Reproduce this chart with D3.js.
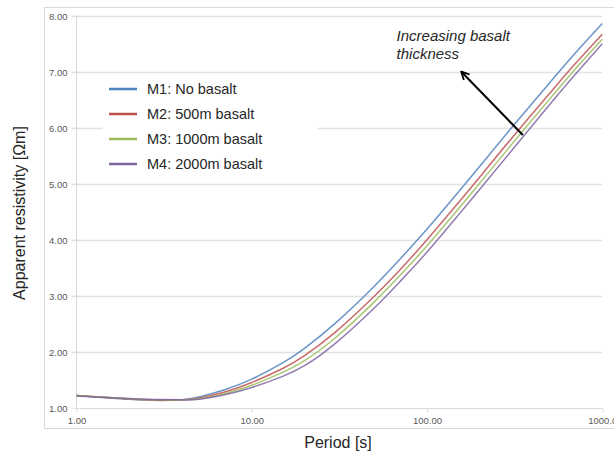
<!DOCTYPE html>
<html>
<head>
<meta charset="utf-8">
<script src="https://cdn.jsdelivr.net/npm/d3@7"></script>
<style>
  html, body { margin: 0; padding: 0; background: #fff; }
  svg { display: block; }
</style>
</head>
<body>
<svg id="chart" width="614" height="456"></svg>
<script>
// ---- Data ----
const periods = [1, 2, 3, 4, 5, 7, 10, 15, 20, 30, 50, 70, 100, 150, 200, 300, 500, 700, 1000];
const seriesNames = ["M1: No basalt", "M2: 500m basalt", "M3: 1000m basalt", "M4: 2000m basalt"];
const m1 = [1.22, 1.15, 1.13, 1.14, 1.19, 1.32, 1.51, 1.80, 2.06, 2.51, 3.17, 3.65, 4.19, 4.84, 5.31, 5.98, 6.80, 7.33, 7.86];
const m2 = [1.22, 1.155, 1.135, 1.14, 1.17, 1.28, 1.45, 1.70, 1.93, 2.35, 2.99, 3.46, 4.00, 4.65, 5.12, 5.79, 6.61, 7.14, 7.67];
const m3 = [1.22, 1.16, 1.14, 1.14, 1.16, 1.25, 1.40, 1.63, 1.84, 2.25, 2.89, 3.36, 3.89, 4.54, 5.01, 5.68, 6.51, 7.045, 7.58];
const m4 = [1.21, 1.165, 1.145, 1.14, 1.15, 1.23, 1.36, 1.56, 1.75, 2.15, 2.78, 3.25, 3.78, 4.43, 4.90, 5.57, 6.41, 6.95, 7.50];
const seriesColors = ["#4F81BD", "#C0504D", "#9BBB59", "#8064A2"];
const yTicks = [1, 2, 3, 4, 5, 6, 7, 8];
const xTicks = [1, 10, 100, 1000];
const xTitle = "Period [s]";
const yTitle = "Apparent resistivity [Ωm]";
const annotationLines = ["Increasing basalt", "thickness"];
const arrowFrom = [352, 5.87];   // [period, resistivity]
const arrowTo = [158, 6.99];
const annotationAt = [67, 7.54];

const allSeries = [m1, m2, m3, m4];

// ---- Layout ----
const svg = d3.select("#chart");
const x = d3.scaleLog().domain([1, 1000]).range([76.5, 602.3]);
const y = d3.scaleLinear().domain([1, 8]).range([407.7, 15.7]);
const font = "'Liberation Sans', Arial, sans-serif";

// outer chart border
svg.append("rect")
  .attr("x", 44.5).attr("y", 7.5)
  .attr("width", 600).attr("height", 421)
  .attr("fill", "none").attr("stroke", "#d9d9d9").attr("stroke-width", 1);

// gridlines
svg.append("g").selectAll("line")
  .data(yTicks.filter(d => d > 1))
  .join("line")
  .attr("x1", 72).attr("x2", x(1000))
  .attr("y1", d => Math.round(y(d)) + 0.5).attr("y2", d => Math.round(y(d)) + 0.5)
  .attr("stroke", "#e3e3e3").attr("stroke-width", 1.3);

// axes via d3
const yAxis = d3.axisLeft(y).tickValues(yTicks).tickFormat(d3.format(".2f")).tickSize(4).tickPadding(5);
const gy = svg.append("g").attr("transform", `translate(${x(1)},0)`).call(yAxis);
gy.select(".domain").attr("stroke", "#d9d9d9").attr("d", `M0,${y(8)}V${y(1)}`);
gy.selectAll(".tick line").attr("stroke", "#d9d9d9");
gy.selectAll(".tick text").attr("fill", "#595959").attr("font-family", font).attr("font-size", 9.5).attr("dy", "0.35em");

const xAxis = d3.axisBottom(x).tickValues(xTicks).tickFormat(d => d === 1000 ? "1000.0" : d3.format(".2f")(d)).tickSize(4).tickPadding(5);
const gx = svg.append("g").attr("transform", `translate(0,${Math.round(y(1)) + 0.5})`).call(xAxis);
gx.select(".domain").attr("stroke", "#d9d9d9").attr("d", `M${x(1)},0H${x(1000)}`);
gx.selectAll(".tick line").attr("stroke", "#d9d9d9");
gx.selectAll(".tick text").attr("fill", "#595959").attr("font-family", font).attr("font-size", 9.5);

// legend background
svg.append("rect")
  .attr("x", 103).attr("y", 76).attr("width", 214).attr("height", 102)
  .attr("fill", "#fff");

// curves
const line = d3.line()
  .x((d, i) => x(periods[i]))
  .y(d => y(d))
  .curve(d3.curveNatural);

svg.append("g").selectAll("path")
  .data(allSeries)
  .join("path")
  .attr("d", d => line(d))
  .attr("fill", "none")
  .attr("stroke", (d, i) => seriesColors[i])
  .attr("stroke-width", 1.5)
  .attr("stroke-opacity", 0.85);

// legend
const lg = svg.append("g").selectAll("g")
  .data(seriesNames)
  .join("g")
  .attr("transform", (d, i) => `translate(109,${89 + i * 25})`);
lg.append("line")
  .attr("x1", 0).attr("x2", 28).attr("y1", 0).attr("y2", 0)
  .attr("stroke", (d, i) => seriesColors[i]).attr("stroke-width", 2.5);
lg.append("text")
  .attr("x", 38).attr("y", 0).attr("dy", "0.35em")
  .attr("font-family", font).attr("font-size", 14.5).attr("fill", "#262626")
  .text(d => d);

// axis titles
svg.append("text")
  .attr("x", 338).attr("y", 448)
  .attr("text-anchor", "middle")
  .attr("font-family", font).attr("font-size", 16).attr("fill", "#262626")
  .text(xTitle);
svg.append("text")
  .attr("transform", "translate(25,213) rotate(-90)")
  .attr("text-anchor", "middle")
  .attr("font-family", font).attr("font-size", 16).attr("fill", "#262626")
  .text(yTitle);

// annotation
const at = svg.append("text")
  .attr("x", x(annotationAt[0])).attr("y", y(annotationAt[1]))
  .attr("font-family", font).attr("font-size", 15).attr("font-style", "italic").attr("fill", "#262626");
at.selectAll("tspan").data(annotationLines).join("tspan")
  .attr("x", x(annotationAt[0])).attr("dy", (d, i) => i === 0 ? 0 : 17.5)
  .text(d => d);

const defs = svg.append("defs");
defs.append("marker")
  .attr("id", "ah").attr("viewBox", "0 0 10 10")
  .attr("refX", 8).attr("refY", 5)
  .attr("markerWidth", 5).attr("markerHeight", 5)
  .attr("orient", "auto")
  .append("path").attr("d", "M1,1 L9,5 L1,9").attr("fill", "none").attr("stroke", "#000").attr("stroke-width", 1.8);

svg.append("line")
  .attr("x1", x(arrowFrom[0])).attr("y1", y(arrowFrom[1]))
  .attr("x2", x(arrowTo[0])).attr("y2", y(arrowTo[1]))
  .attr("stroke", "#000").attr("stroke-width", 2)
  .attr("marker-end", "url(#ah)");
</script>
</body>
</html>
